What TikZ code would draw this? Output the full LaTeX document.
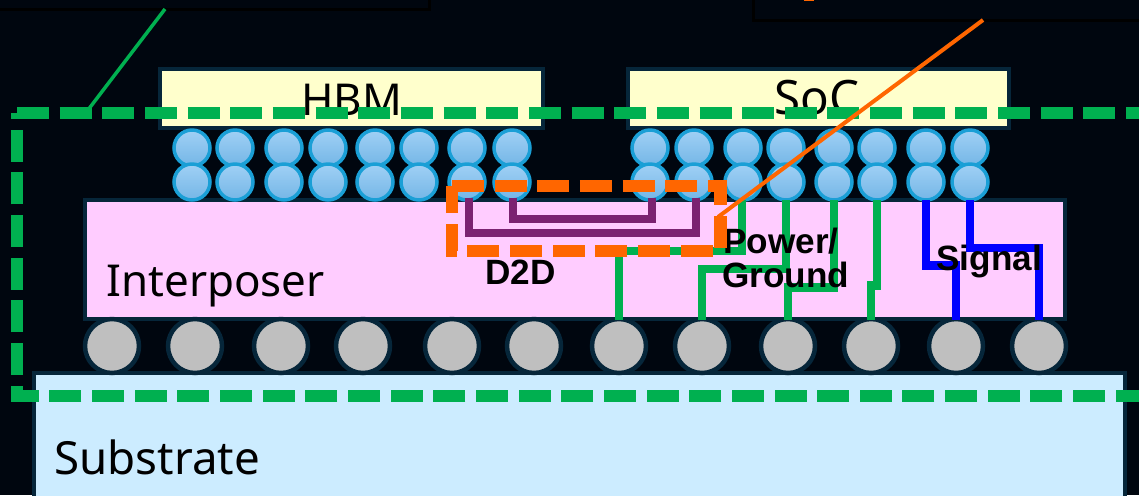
\documentclass[tikz,border=0pt]{standalone}
\usepackage{fontspec}
\setmainfont{Noto Sans}
\newfontfamily\heavyfont{Liberation Sans}
\usepackage{tikz}
\definecolor{bgdark}{HTML}{00060F}
\definecolor{edgedark}{HTML}{06263A}
\definecolor{hbmyellow}{HTML}{FFFFCC}
\definecolor{interpink}{HTML}{FFCCFF}
\definecolor{subblue}{HTML}{CCECFF}
\definecolor{ballgray}{HTML}{BFBFBF}
\definecolor{ballrim}{HTML}{1A9FD6}
\definecolor{ballhi}{HTML}{A0D0F5}
\definecolor{balllo}{HTML}{74B6E6}
\definecolor{routegreen}{HTML}{00B050}
\definecolor{routepurple}{HTML}{7B2271}
\definecolor{boxorange}{HTML}{FF6600}
\begin{document}
\begin{tikzpicture}[x=0.02cm,y=-0.02cm,
    block/.style={draw=edgedark,line width=0.09cm},
    microbump/.style={draw=ballrim,line width=0.07cm,top color=ballhi,bottom color=balllo},
    bigbump/.style={draw=edgedark,line width=0.09cm,fill=ballgray},
    route/.style={line width=0.17cm,miter limit=10},
    bigdash/.style={line width=0.25cm,dash pattern=on 0.64cm off 0.2133cm},
    biglabel/.style={anchor=base west,inner sep=0pt,font=\fontsize{25}{25}\selectfont},
    boldlabel/.style={anchor=base west,inner sep=0pt,font=\fontsize{20}{20}\selectfont\heavyfont\bfseries}]
      \useasboundingbox (0,0) rectangle (1139,495);
      \clip (0,0) rectangle (1139,495);
      \fill[bgdark] (0,0) rectangle (1139,495);
      % cut-off callout boxes
      \draw[black,line width=0.06cm] (-20,-20) rectangle (429,9);
      \draw[black,line width=0.06cm] (753,-20) rectangle (1200,20);
      \fill[boxorange] (804,-1) rectangle (814,0.8);
      % dies and carriers
      \draw[block,fill=hbmyellow] (160,69) rectangle (543,128);
      \draw[block,fill=hbmyellow] (628,69) rectangle (1009,128);
      \draw[block,fill=interpink] (85,200) rectangle (1065,319);
      \draw[block,fill=subblue] (34,373) rectangle (1125,520);
      % bumps
      \foreach \bx in {192,235,284,328,375,419,467,512,650,694,743,786,834,877,926,970} {
        \draw[microbump] (\bx,148) circle (18);
        \draw[microbump] (\bx,182) circle (18);
      }
      \foreach \bx in {112,195,281,363,452,534,619,702,788,871,956,1039} {
        \draw[bigbump] (\bx,346) circle (27);
      }
      % D2D wires
      \draw[route,routepurple] (469,198) -- (469,233) -- (696,233) -- (696,198);
      \draw[route,routepurple] (513,198) -- (513,219) -- (652,219) -- (652,198);
      % power and ground
      \draw[route,routegreen] (619,320) -- (619,251) -- (742,251) -- (742,200);
      \draw[route,routegreen] (702,320) -- (702,269) -- (786,269) -- (786,200);
      \draw[route,routegreen] (788,320) -- (788,287.5) -- (834,287.5) -- (834,200);
      \draw[route,routegreen] (871,320) -- (871,285.5) -- (877,285.5) -- (877,200);
      % signal
      \draw[route,blue] (926,200) -- (926,265.5) -- (956,265.5) -- (956,320);
      \draw[route,blue] (970,200) -- (970,248) -- (1039,248) -- (1039,320);
      % labels
      \node[biglabel] (hbmlabel) at (301,115) {HBM};
      \node[biglabel,font=\fontsize{27}{27}\selectfont] (soclabel) at (774,114) {SoC};
      \node[biglabel] (interlabel) at (106,296) {Interposer};
      \node[biglabel,font=\fontsize{26}{26}\selectfont] (sublabel) at (54,474) {Substrate};
      \node[boldlabel] (d2dlabel) at (485,284) {D2D};
      \node[boldlabel] (powerlabel) at (723,253) {Power/};
      \node[boldlabel] (groundlabel) at (722,287) {Ground};
      \node[boldlabel] (signallabel) at (936,270) {Signal};
      % dashed outlines
      \draw[bigdash,routegreen] (17,113) -- (1208.7,113) -- (1208.7,396) -- (17,396) -- cycle;
      \draw[routegreen,line width=0.07cm] (165,9) -- (88,110);
      \draw[bigdash,boxorange] (452,186) -- (720.5,186) -- (720.5,251) -- (452,251) -- cycle;
      \draw[boxorange,line width=0.08cm] (983,20) -- (718,217);
    \end{tikzpicture}
\end{document}
